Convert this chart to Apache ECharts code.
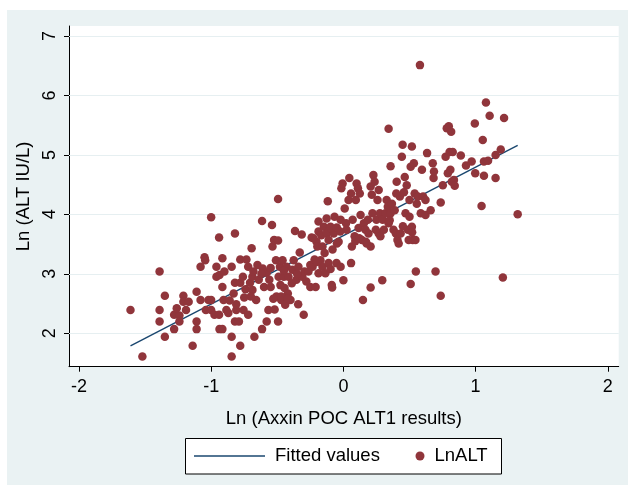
<!DOCTYPE html>
<html>
<head>
<meta charset="utf-8">
<script src="https://cdn.jsdelivr.net/npm/echarts@6/dist/echarts.min.js"></script>
<style>
  html, body { margin: 0; padding: 0; background: #fff; }
  #chart { width: 628px; height: 485px; }
</style>
</head>
<body>
<div id="chart"></div>
<script>
  // Ln (Axxin POC ALT1 results) -- x of each patient
  const lnAxxin = [
    -1.61,-1.52,-1.39,-1.39,-1.39,-1.35,-1.35,-1.28,-1.28,-1.26,
    -1.24,-1.24,-1.21,-1.21,-1.19,-1.17,-1.14,-1.11,-1.11,-1.11,
    -1.08,-1.05,-1.045,-1.08,-1.04,-1.02,-1.00,-1.00,-1.00,-0.975,
    -0.96,-0.96,-0.94,-0.94,-0.937,-0.937,-0.915,-0.915,-0.915,-0.906,
    -0.90,-0.885,-0.87,-0.845,-0.845,-0.845,-0.83,-0.82,-0.82,-0.82,
    -0.81,-0.81,-0.79,-0.78,-0.78,-0.78,-0.76,-0.755,-0.74,-0.733,
    -0.72,-0.72,-0.706,-0.694,-0.688,-0.688,-0.68,-0.673,-0.66,-0.65,
    -0.64,-0.615,-0.615,-0.61,-0.60,-0.58,-0.58,-0.567,-0.56,-0.55,
    -0.54,-0.536,-0.524,-0.51,-0.506,-0.494,-0.494,-0.494,-0.49,-0.48,
    -0.476,-0.47,-0.46,-0.45,-0.445,-0.44,-0.43,-0.42,-0.415,-0.40,
    -0.39,-0.385,-0.376,-0.366,-0.355,-0.342,-0.34,-0.33,-0.315,-0.31,
    -0.30,-0.294,-0.28,-0.264,-0.25,-0.24,-0.233,-0.218,-0.21,-0.203,
    -0.197,-0.188,-0.188,-0.188,-0.173,-0.167,-0.158,-0.158,-0.148,-0.142,
    -0.136,-0.127,-0.127,-0.118,-0.112,-0.112,-0.097,-0.097,-0.088,-0.085,
    -0.082,-0.073,-0.067,-0.052,-0.036,-0.021,-0.021,-0.015,-0.006,0,
    0.01,0.024,0.039,0.045,0.058,0.058,0.064,0.07,0.085,0.094,
    0.10,0.11,0.115,0.124,0.13,0.14,0.148,0.155,0.167,0.176,
    0.185,0.19,0.206,0.206,0.206,0.215,0.22,0.227,0.236,0.245,
    0.25,0.258,0.267,0.267,0.276,0.28,0.294,0.297,0.306,0.318,
    0.327,0.336,0.342,0.342,0.357,0.357,0.367,0.379,0.388,0.397,
    0.403,0.409,0.418,0.427,0.433,0.442,0.448,0.458,0.464,0.47,
    0.479,0.488,0.494,0.50,0.50,0.509,0.509,0.518,0.518,0.524,
    0.533,0.539,0.545,0.548,0.555,0.563,0.579,0.585,0.594,0.603,
    0.621,0.621,0.633,0.66,0.676,0.682,0.685,0.697,0.736,0.736,
    0.752,0.773,0.782,0.79,0.797,0.803,0.809,0.815,0.82,0.827,
    0.836,0.842,0.888,0.927,0.97,0.994,0.997,1.045,1.054,1.063,
    1.063,1.078,1.094,1.106,1.151,1.151,1.19,1.206,1.215,1.318,
    -0.52,-0.53,-0.47,-0.42,-0.226,-0.10,-0.024,-0.049,0.09,0.12,
    0.17,-0.62,-0.55,-0.45,-0.35,-0.25,-0.20,-0.05,0.02,0.35,
    0.45,0.52,0.40,-0.70,-0.86,-0.75
  ];
  // Ln (ALT IU/L) -- y of each patient
  const lnAlt = [
    2.39,1.61,3.04,2.39,2.20,2.63,1.94,2.31,2.07,2.42,
    2.20,2.30,2.63,2.53,2.39,2.53,1.79,2.70,2.20,2.07,
    3.12,3.28,3.23,2.56,2.39,2.56,3.95,2.56,2.39,2.31,
    3.12,2.95,3.61,2.31,2.98,2.07,3.26,2.07,2.78,2.56,
    3.04,2.39,2.34,1.61,1.94,3.12,2.67,3.68,2.85,2.20,
    2.39,2.49,2.20,1.79,3.24,2.85,2.95,2.39,2.74,3.24,
    3.12,2.31,2.85,3.43,2.95,2.73,3.04,1.94,2.56,3.15,
    2.90,3.89,2.07,3.09,2.78,3.02,2.20,2.39,2.90,2.78,
    3.82,3.46,3.57,3.23,2.62,4.26,3.56,2.20,2.95,3.12,
    2.81,2.56,3.23,2.95,2.76,2.48,3.12,2.67,2.95,2.56,
    2.84,3.07,3.23,3.72,2.90,2.49,3.12,3.36,3.66,2.95,
    2.31,3.04,2.87,3.04,2.78,3.61,3.12,3.24,2.78,3.54,
    3.46,3.71,3.88,3.01,3.23,3.65,3.46,3.12,3.79,3.35,
    3.01,3.68,3.93,4.22,3.57,3.18,3.79,3.08,2.81,2.77,
    3.41,3.68,3.96,3.18,3.54,3.91,3.12,4.44,4.52,2.89,
    4.10,3.74,4.24,4.61,3.18,4.35,3.46,3.91,3.63,4.24,
    4.52,4.44,3.77,4.35,3.99,3.57,2.56,3.85,3.74,3.51,
    3.91,3.68,2.77,3.46,4.47,4.33,4.02,4.66,4.55,3.74,
    3.91,4.24,4.41,3.68,4.02,3.63,2.89,3.91,3.74,4.02,
    4.24,4.13,5.44,3.85,4.81,4.02,4.18,3.74,4.07,3.68,
    4.55,3.57,3.51,4.30,3.68,4.97,5.17,4.37,4.63,4.02,
    4.49,3.74,3.57,4.24,3.96,2.83,4.80,5.14,3.79,3.57,
    4.86,4.35,3.57,3.04,4.18,4.30,6.51,4.02,4.75,4.30,
    4.24,3.99,5.03,4.07,4.86,4.61,4.72,3.04,2.63,4.20,
    4.49,4.97,5.45,4.69,5.48,5.05,4.75,5.39,4.55,5.05,
    4.58,4.48,4.99,4.82,4.89,5.53,4.69,4.14,5.25,4.89,
    4.65,5.88,4.90,5.66,5.00,4.61,5.09,2.94,5.62,4.00,
    2.40,2.58,2.62,2.58,3.60,3.77,3.71,3.51,3.55,3.60,
    3.54,3.00,3.10,3.05,3.00,3.15,3.20,3.78,3.85,3.90,
    3.80,3.70,4.35,2.62,2.55,2.60
  ];
  // fitted regression line, ends at the data's min / max x
  const fitX = [-1.61, 1.318];
  const fitY = [1.787, 5.16];

  const xTicks = [-2, -1, 0, 1, 2];
  const yTicks = [2, 3, 4, 5, 6, 7];

  const points = lnAxxin.map((x, i) => [x, lnAlt[i]]);
  const fitLine = fitX.map((x, i) => [x, fitY[i]]);

  const font = '"Liberation Sans", Arial, Helvetica, sans-serif';
  const bg = '#eaf2f3';

  const chart = echarts.init(document.getElementById('chart'), null, { renderer: 'canvas' });

  const option = {
    backgroundColor: '#ffffff',
    animation: false,
    textStyle: { fontFamily: font, color: '#000' },
    graphic: [
      { type: 'rect', z: -10, silent: true,
        shape: { x: 7, y: 10, width: 621, height: 475 },
        style: { fill: bg } },
      { type: 'rect', z: 10, silent: true,
        shape: { x: 185.5, y: 438.5, width: 316, height: 35.5 },
        style: { fill: '#fff', stroke: '#000', lineWidth: 1 } }
    ],
    grid: {
      left: 69, top: 26, right: 9.3, bottom: 118.3,
      show: true, backgroundColor: '#fff', borderWidth: 0
    },
    xAxis: {
      type: 'value',
      min: -2.075, max: 2.082,
      name: 'Ln (Axxin POC ALT1 results)',
      nameLocation: 'middle', nameGap: 43,
      nameTextStyle: { fontSize: 18.5, color: '#000', fontFamily: font },
      axisLine: { show: true, onZero: false, lineStyle: { color: '#000', width: 1 } },
      axisTick: { show: true, length: 5, customValues: xTicks, lineStyle: { color: '#000' } },
      axisLabel: { customValues: xTicks, margin: 11, fontSize: 18, color: '#000', fontFamily: font },
      splitLine: { show: false }
    },
    yAxis: {
      type: 'value',
      min: 1.438, max: 7.168,
      name: 'Ln (ALT IU/L)',
      nameLocation: 'middle', nameGap: 35, nameRotate: 90,
      nameTextStyle: { fontSize: 18.5, color: '#000', fontFamily: font },
      axisLine: { show: true, onZero: false, lineStyle: { color: '#000', width: 1 } },
      axisTick: { show: true, length: 5, customValues: yTicks, lineStyle: { color: '#000' } },
      axisLabel: { customValues: yTicks, rotate: 90, margin: 10, fontSize: 18, color: '#000', fontFamily: font },
      splitLine: { show: false }
    },
    legend: [
      {
        data: [{ name: 'Fitted values', icon: 'path://M0,0 L100,0 L100,2 L0,2 Z' }],
        left: 194, top: 446, padding: 0,
        itemWidth: 71, itemHeight: 1.6,
        textStyle: { fontSize: 18.5, color: '#000', fontFamily: font, lineHeight: 20, padding: [0, 0, 0, 5] },
        z: 20, selectedMode: false
      },
      {
        data: [{ name: 'LnALT', icon: 'circle' }],
        left: 415.5, top: 446, padding: 0,
        itemWidth: 9, itemHeight: 9,
        textStyle: { fontSize: 18.5, color: '#000', fontFamily: font, lineHeight: 20, padding: [0, 0, 0, 5] },
        z: 20, selectedMode: false
      }
    ],
    series: [
      {
        // horizontal grid lines, placed through the y scale
        name: 'grid',
        type: 'line',
        data: [],
        silent: true,
        markLine: {
          silent: true, symbol: 'none', z: 1, animation: false,
          label: { show: false },
          lineStyle: { color: '#e6eff1', width: 1.2, type: 'solid' },
          data: yTicks.map(v => ({ yAxis: v }))
        }
      },
      {
        name: 'Fitted values',
        type: 'line',
        data: fitLine,
        showSymbol: false,
        symbol: 'none',
        lineStyle: { color: '#1a476f', width: 1.4 },
        itemStyle: { color: '#1a476f' },
        z: 2
      },
      {
        name: 'LnALT',
        type: 'scatter',
        data: points,
        symbol: 'circle',
        symbolSize: 8.5,
        itemStyle: { color: '#90353b', opacity: 1 },
        z: 3
      }
    ]
  };

  chart.setOption(option);
</script>
</body>
</html>
